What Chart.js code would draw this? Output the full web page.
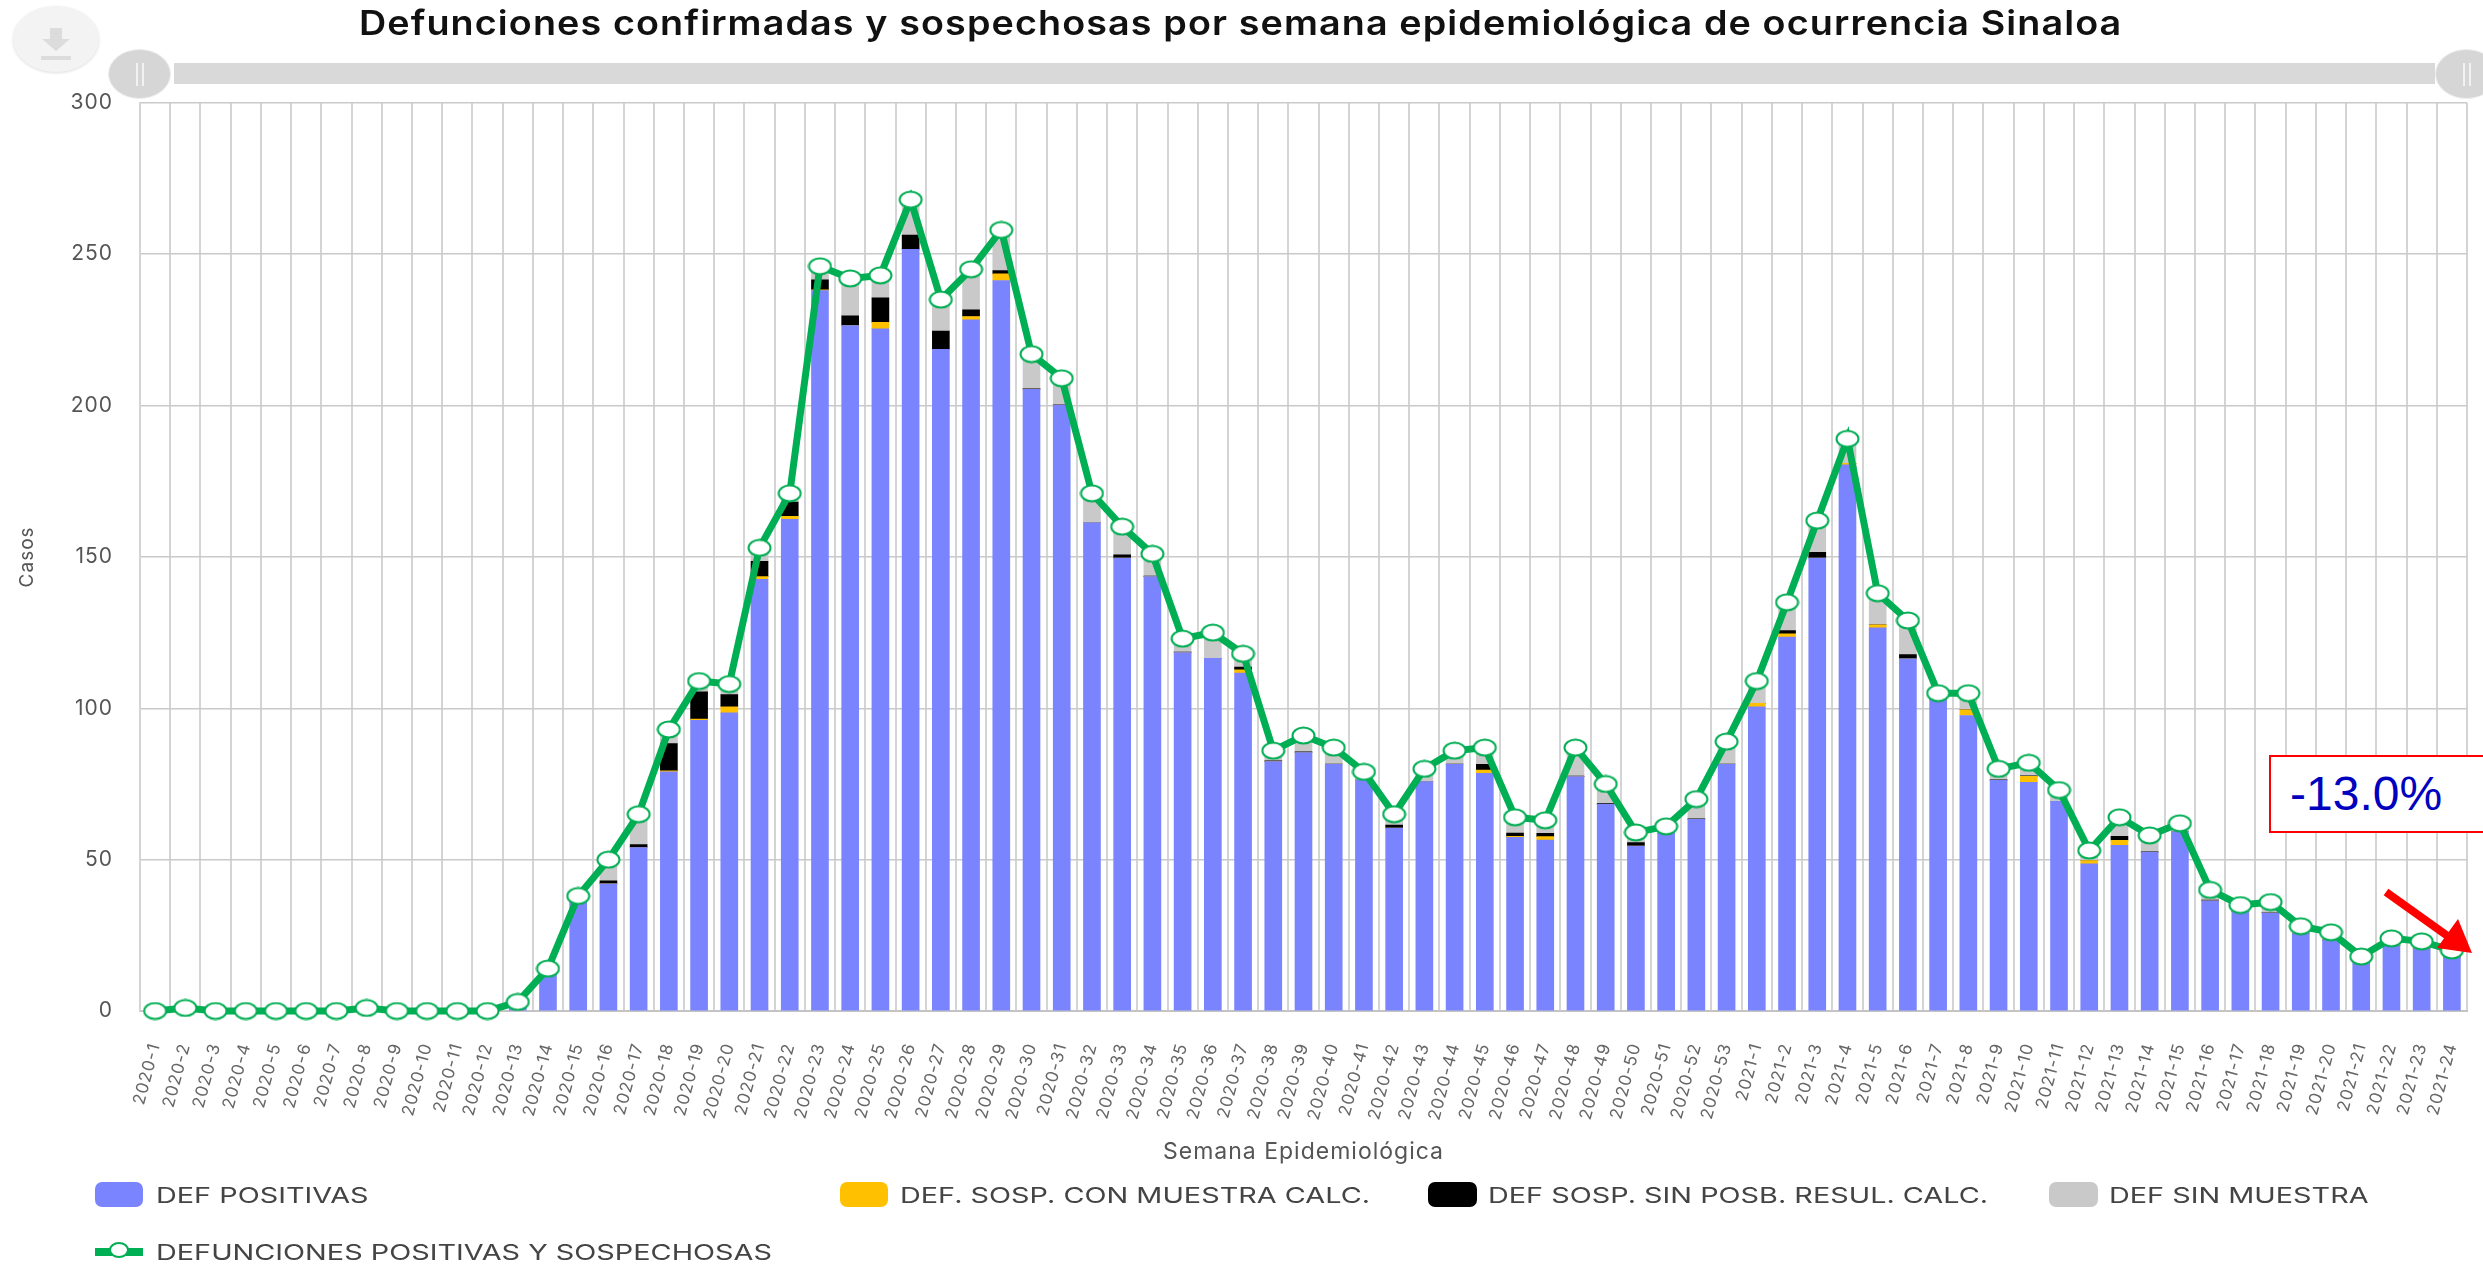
<!DOCTYPE html>
<html>
<head>
<meta charset="utf-8">
<title>Defunciones Sinaloa</title>
<script src="https://cdn.jsdelivr.net/npm/chart.js@4"></script>
<style>
  html, body { margin: 0; padding: 0; background: #fff; }
  #wrap { position: relative; width: 2483px; height: 1264px; overflow: hidden; font-family: Inter, sans-serif; }
  canvas { position: absolute; left: 0; top: 0; }
  .download { position: absolute; left: 13px; top: 6px; width: 86px; height: 66px; border-radius: 50%; background: #f3f3f3; box-shadow: 0 1px 3px #ddd; }
  .slider-bar { position: absolute; left: 174px; top: 63px; width: 2261px; height: 21px; background: #d9d9d9; }
  .handle { position: absolute; top: 49px; width: 63px; height: 50px; border-radius: 50%; background: #d6d6d6; border: 1px solid #eee; box-sizing: border-box; }
  .handle::after { content: ""; position: absolute; left: 27px; top: 13px; width: 4px; height: 23px; border-left: 2px solid #f2f2f2; border-right: 2px solid #f2f2f2; }
  .handle.left { left: 108px; }
  .handle.right { left: 2435px; }
  .badge { position: absolute; left: 2269px; top: 755px; width: 240px; height: 78px; box-sizing: border-box; border: 2px solid #f00; background: #fff; color: #0000bf; font: 48px "Liberation Sans", Arial, sans-serif; line-height: 74px; padding-left: 19px; }
  .leg { position: absolute; height: 26px; line-height: 26px; font-size: 22px; color: #444; white-space: nowrap; }
  .leg span { display: inline-block; transform: scaleX(1.31); transform-origin: left center; }
  .leg i { position: absolute; left: -61px; top: 0; width: 48px; height: 25px; border-radius: 7px; }
  .leg-0 { left: 156px; top: 1182px; }
  .leg-1 { left: 900px; top: 1182px; }
  .leg-2 { left: 1488px; top: 1182px; }
  .leg-3 { left: 2109px; top: 1182px; }
  .leg-4 { left: 156px; top: 1239px; }
  .leg-1 i { left: -60px; }
  .leg-2 i, .leg-3 i { left: -60px; width: 49px; }
  .leg-4 i { top: 9px; height: 8px; border-radius: 0; }
  .leg-4 i::after { content: ""; position: absolute; left: 14px; top: -6px; width: 20px; height: 16px; border: 2px solid #00ae53; background: #fff; border-radius: 50%; box-sizing: border-box; }
</style>
</head>
<body>
<div id="wrap">
  <canvas id="grafica" width="2483" height="1264"></canvas>
  <div class="download">
    <svg width="86" height="66"><path d="M37 22h12v11h8L43 45 29 33h8zM28 50h30v4H28z" fill="#dcdcdc"/></svg>
  </div>
  <div class="slider-bar"></div>
  <div class="handle left"></div>
  <div class="handle right"></div>
  <div class="badge">-13.0%</div>
  <svg style="position:absolute;left:0;top:0" width="2483" height="1264">
    <path d="M2386 892L2449 937" stroke="#f00" stroke-width="8" fill="none"/>
    <path d="M2472 953L2437 948L2458 919z" fill="#f00"/>
  </svg>
  <div id="leyenda"></div>
</div>
<script>
const titulo = "Defunciones confirmadas y sospechosas por semana epidemiológica de ocurrencia Sinaloa"

const semanas = [
  "2020-1","2020-2","2020-3","2020-4","2020-5","2020-6","2020-7","2020-8","2020-9","2020-10",
  "2020-11","2020-12","2020-13","2020-14","2020-15","2020-16","2020-17","2020-18","2020-19","2020-20",
  "2020-21","2020-22","2020-23","2020-24","2020-25","2020-26","2020-27","2020-28","2020-29","2020-30",
  "2020-31","2020-32","2020-33","2020-34","2020-35","2020-36","2020-37","2020-38","2020-39","2020-40",
  "2020-41","2020-42","2020-43","2020-44","2020-45","2020-46","2020-47","2020-48","2020-49","2020-50",
  "2020-51","2020-52","2020-53","2021-1","2021-2","2021-3","2021-4","2021-5","2021-6","2021-7",
  "2021-8","2021-9","2021-10","2021-11","2021-12","2021-13","2021-14","2021-15","2021-16","2021-17",
  "2021-18","2021-19","2021-20","2021-21","2021-22","2021-23","2021-24"
]

const positivas = [
  0,0,0,0,0,0,0,0,0,0,
  0,0,2,13,36,42,54,79,96,98.5,
  142.6,162.4,238,226.4,225.3,251.6,218.6,228.3,241.3,205.4,
  200.2,161.3,149.6,143.5,118.4,116.5,111.6,82.4,85.4,81.6,
  76.3,60.4,75.8,81.6,78.5,57.4,56.5,77.4,68.3,54.5,
  58.7,63.3,81.6,100.5,123.5,149.6,180.4,126.6,116.3,103,
  97.6,76.2,75.5,69.3,48.6,54.7,52.4,59.3,36.4,32.8,
  32.4,25.6,23.5,16.3,21.6,20.6,17.8
]
const conMuestra = [
  0,0,0,0,0,0,0,0,0,0,
  0,0,0,0,0,0,0,0.3,0.4,2,
  0.9,1,0.2,0,2.2,0,0,1.1,2.2,0,
  0,0,0,0,0,0,1.1,0,0,0,
  0,0,0,0,1.1,0.3,1.1,0,0,0,
  0,0,0,1.1,1.1,0,0.5,1,0,0,
  1.9,0,2,0,1.1,1.7,0,0,0,0,
  0,0,0,0,0,0,0
]
const sinPosibilidad = [
  0,0,0,0,0,0,0,0,0,0,
  0,0,0,0,0,1,1,9,9,4,
  5,4.7,3.3,3.2,8.1,4.7,6,2.2,1.1,0.2,
  0.2,0,1.1,0.2,0.2,0,0.9,0.2,0.2,0,
  0,1,0,0,1.9,1.1,1.1,0.2,0.2,1.1,
  0,0.2,0,0,1.1,1.9,0,0,1.4,0,
  0,0.2,0.2,0,0,1.3,0.2,0,0.2,0,
  0.2,0,0,0,0,0,0
]
const sinMuestra = [
  0,0,0,0,0,0,0,0,0,0,
  0,0,1,1,2,7,10,4.7,3.6,3.5,
  4.5,2.9,4.5,12.4,7.4,11.7,10.4,13.4,13.4,11.4,
  8.6,9.7,9.3,7.3,4.4,8.5,4.4,3.4,5.4,5.4,
  2.7,3.6,4.2,4.4,5.5,5.2,4.3,9.4,6.5,3.4,
  2.3,6.5,7.4,7.4,9.3,10.5,8.1,10.4,11.3,2,
  5.5,3.6,4.3,3.7,3.3,6.3,5.4,2.7,3.4,2.2,
  3.4,2.4,2.5,1.7,2.4,2.4,2.2
]
const totales = [
  0,1,0,0,0,0,0,1,0,0,
  0,0,3,14,38,50,65,93,109,108,
  153,171,246,242,243,268,235,245,258,217,
  209,171,160,151,123,125,118,86,91,87,
  79,65,80,86,87,64,63,87,75,59,
  61,70,89,109,135,162,189,138,129,105,
  105,80,82,73,53,64,58,62,40,35,
  36,28,26,18,24,23,20
]

const nombres = [
  "DEF POSITIVAS",
  "DEF. SOSP. CON MUESTRA CALC.",
  "DEF SOSP. SIN POSB. RESUL. CALC.",
  "DEF SIN MUESTRA",
  "DEFUNCIONES POSITIVAS Y SOSPECHOSAS"
]
const colores = ["#7b84ff", "#ffc000", "#000000", "#c9c9c9", "#00ae53"]

// the markers in the picture are wider than tall, so the point is a small canvas
function marcador() {
  const c = document.createElement("canvas")
  c.width = 25
  c.height = 19
  const g = c.getContext("2d")
  g.beginPath()
  g.ellipse(12.5, 9.5, 11, 8, 0, 0, Math.PI * 2)
  g.fillStyle = "#fff"
  g.fill()
  g.lineWidth = 2
  g.strokeStyle = "#00ae53"
  g.stroke()
  return c
}

function barra(i, valores) {
  return {
    type: "bar",
    label: nombres[i],
    data: valores,
    backgroundColor: colores[i],
    barThickness: 17,
    order: 2
  }
}

// the lettering of the reference is wide: spacing for all canvas text,
// and the title block is stretched around the middle of the page
const letraAncha = {
  id: "letraAncha",
  beforeDraw(chart) { chart.ctx.letterSpacing = "1px" },
  afterLayout(chart) {
    const bloque = chart.titleBlock
    const dibujar = bloque.draw
    bloque.draw = function () {
      const ctx = chart.ctx
      const medio = chart.width / 2
      ctx.save()
      ctx.translate(medio + 8, 0)
      ctx.scale(1.109, 1)
      ctx.translate(-medio, 0)
      dibujar.apply(bloque, arguments)
      ctx.restore()
    }
  }
}

new Chart(document.getElementById("grafica"), {
  data: {
    labels: semanas,
    datasets: [
      {
        type: "line",
        label: nombres[4],
        data: totales,
        borderColor: colores[4],
        borderWidth: 7,
        pointStyle: marcador(),
        tension: 0,
        order: 1,
        clip: false
      },
      barra(0, positivas),
      barra(1, conMuestra),
      barra(2, sinPosibilidad),
      barra(3, sinMuestra)
    ]
  },
  plugins: [letraAncha],
  options: {
    responsive: false,
    animation: false,
    layout: { padding: { left: 0, right: 16, top: 0, bottom: 98 } },
    plugins: {
      legend: { display: false },
      tooltip: { enabled: false },
      title: {
        display: true,
        text: titulo,
        color: "#111",
        font: { family: "Inter", size: 34, weight: "600" },
        padding: { top: 4, bottom: 58 }
      }
    },
    scales: {
      x: {
        stacked: true,
        afterFit(scale) {
          scale.height = 155
          scale.paddingLeft = 0
          scale.paddingRight = 0
        },
        grid: { color: "#d4d4d4", lineWidth: 2, drawTicks: false, offset: true },
        border: { color: "#c4c4c4", width: 2 },
        title: { display: true, text: "Semana Epidemiológica", color: "#555", font: { family: "Inter", size: 23 }, padding: 0 },
        ticks: {
          autoSkip: false,
          minRotation: 75,
          maxRotation: 75,
          padding: 30,
          color: "#666",
          font: { family: "Inter", size: 17 }
        }
      },
      y: {
        stacked: true,
        min: 0,
        max: 300,
        afterFit(scale) { scale.width = 140 },
        grid: { color: "#cacaca", lineWidth: 1.5, drawTicks: false },
        border: { color: "#d4d4d4", width: 2 },
        title: { display: true, text: "Casos", color: "#555", font: { family: "Inter", size: 19 }, padding: { top: 16, bottom: 0 } },
        ticks: {
          stepSize: 50,
          padding: 27,
          color: "#555",
          font: { family: "Inter", size: 21 }
        }
      }
    }
  }
})

const leyenda = document.getElementById("leyenda")
nombres.forEach(function (nombre, i) {
  const item = document.createElement("div")
  item.className = "leg leg-" + i
  const caja = document.createElement("i")
  caja.style.background = colores[i]
  const texto = document.createElement("span")
  texto.textContent = nombre
  item.appendChild(caja)
  item.appendChild(texto)
  leyenda.appendChild(item)
})
</script>
</body>
</html>
